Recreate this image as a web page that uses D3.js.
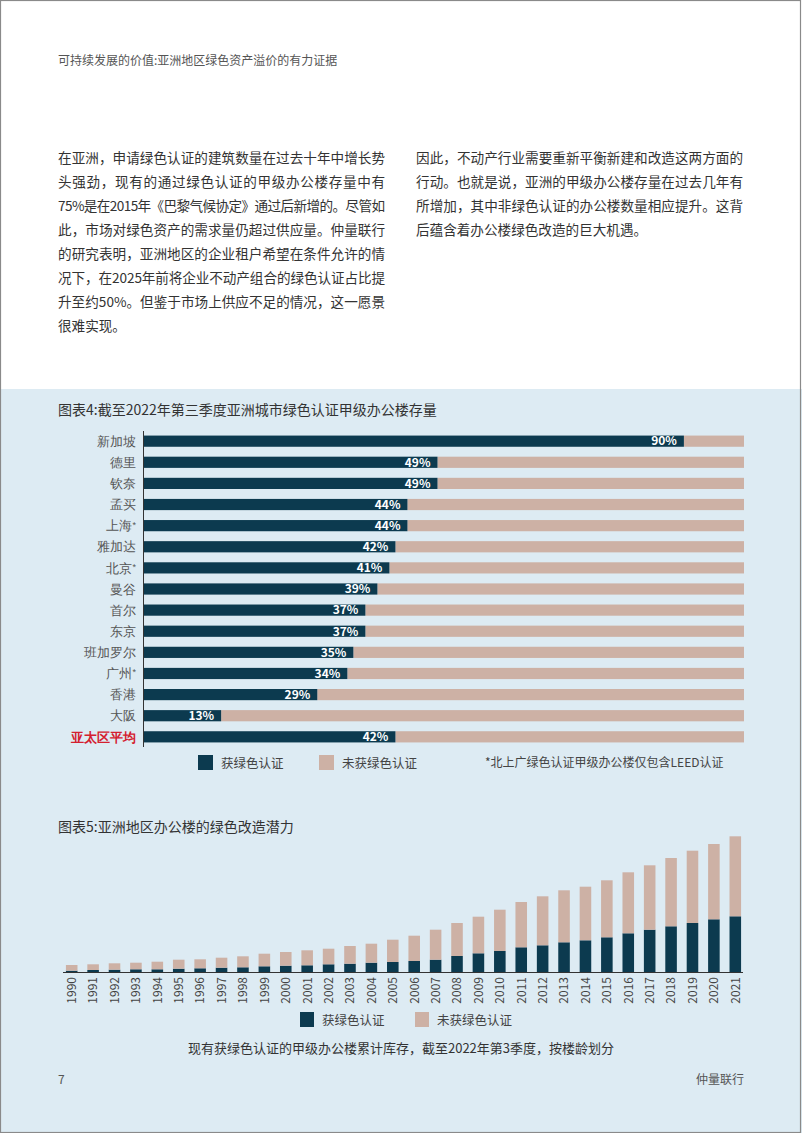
<!DOCTYPE html>
<html><head><meta charset="utf-8">
<script src="https://cdn.jsdelivr.net/npm/d3@7"></script>
<style>
html,body{margin:0;padding:0;background:#fff;}
svg{display:block;font-family:"Noto Sans CJK SC","Noto Sans",sans-serif;}
</style></head>
<body>
<svg id="page" width="802" height="1133"></svg>
<script>
// ---------- DATA ----------
const headerText = "可持续发展的价值:亚洲地区绿色资产溢价的有力证据";
const leftParagraph = [
  "在亚洲，申请绿色认证的建筑数量在过去十年中增长势",
  "头强劲，现有的通过绿色认证的甲级办公楼存量中有",
  "75%是在2015年《巴黎气候协定》通过后新增的。尽管如",
  "此，市场对绿色资产的需求量仍超过供应量。仲量联行",
  "的研究表明，亚洲地区的企业租户希望在条件允许的情",
  "况下，在2025年前将企业不动产组合的绿色认证占比提",
  "升至约50%。但鉴于市场上供应不足的情况，这一愿景",
  "很难实现。"
];
const rightParagraph = [
  "因此，不动产行业需要重新平衡新建和改造这两方面的",
  "行动。也就是说，亚洲的甲级办公楼存量在过去几年有",
  "所增加，其中非绿色认证的办公楼数量相应提升。这背",
  "后蕴含着办公楼绿色改造的巨大机遇。"
];
const chart4Title = "图表4:截至2022年第三季度亚洲城市绿色认证甲级办公楼存量";
const cities = ["新加坡","德里","钦奈","孟买","上海*","雅加达","北京*","曼谷","首尔","东京","班加罗尔","广州*","香港","大阪","亚太区平均"];
const certifiedShare = [90,49,49,44,44,42,41,39,37,37,35,34,29,13,42];
const seriesLabels = ["获绿色认证","未获绿色认证"];
const chart4Note = "*北上广绿色认证甲级办公楼仅包含LEED认证";

const chart5Title = "图表5:亚洲地区办公楼的绿色改造潜力";
const years = ["1990","1991","1992","1993","1994","1995","1996","1997","1998","1999","2000","2001","2002","2003","2004","2005","2006","2007","2008","2009","2010","2011","2012","2013","2014","2015","2016","2017","2018","2019","2020","2021"];
const certifiedStock = [1.3,2,2.3,2.7,2.7,3.3,3.7,4.3,4.7,5.7,6.3,6.7,7.7,8.3,9.3,10,11,12.3,16,18.7,21,24.7,26.7,29.7,31.7,34.7,38.7,42.3,45.7,49,52.7,55.7];
const uncertifiedStock = [5.7,5.7,6.4,6.6,7.6,9,9,10,11,12.6,13.7,15,15.6,17.7,19,22.3,25.3,30,33,36.6,41.3,45.3,49,52,53.6,57,61,64.4,68.3,72.3,75.3,80];
const chart5Caption = "现有获绿色认证的甲级办公楼累计库存，截至2022年第3季度，按楼龄划分";
const pageNumber = "7";
const brand = "仲量联行";

// ---------- STYLE ----------
const C_DARK = "#0c3a4f", C_PEACH = "#cdb1a5", C_BG = "#ddebf3", C_RED = "#d4202f";
const svg = d3.select("#page");

// page backgrounds
svg.append("rect").attr("x",0).attr("y",0).attr("width",802).attr("height",1133).attr("fill","#fff");
svg.append("rect").attr("x",0).attr("y",389).attr("width",802).attr("height",744).attr("fill",C_BG);
svg.append("rect").attr("x",0.5).attr("y",0.5).attr("width",800).attr("height",1132)
   .attr("fill","none").attr("stroke","#8a8a8a").attr("stroke-width",1.2);

// header
svg.append("text").attr("x",58).attr("y",65).attr("font-size",12).attr("fill","#555").text(headerText);

// paragraphs (justified lines)
function para(lines, x0){
  svg.append("g").selectAll("text").data(lines).join("text")
    .attr("x",x0).attr("y",(d,i)=>163+i*24)
    .attr("font-size",13.6).attr("fill","#333")
    .each(function(d,i){
      if(i<lines.length-1){ d3.select(this).attr("textLength",327).attr("lengthAdjust","spacing"); }
    })
    .text(d=>d);
}
para(leftParagraph,58);
para(rightParagraph,416);

// ---------- CHART 4 ----------
svg.append("text").attr("x",58).attr("y",415).attr("font-size",14).attr("fill","#333").text(chart4Title);

const x4 = d3.scaleLinear().domain([0,100]).range([143,744]);
const y4 = d3.scaleBand().domain(cities).range([430.5,747.5]).paddingInner(0.47).paddingOuter(0.24);
const g4 = svg.append("g");
const rows = cities.map((c,i)=>({city:c, v:certifiedShare[i]}));

g4.selectAll("rect.rest").data(rows).join("rect").attr("class","rest")
  .attr("x",d=>x4(d.v)).attr("y",d=>y4(d.city)).attr("width",d=>x4(100)-x4(d.v)).attr("height",y4.bandwidth())
  .attr("fill",C_PEACH);
g4.selectAll("rect.cert").data(rows).join("rect").attr("class","cert")
  .attr("x",x4(0)).attr("y",d=>y4(d.city)).attr("width",d=>x4(d.v)-x4(0)).attr("height",y4.bandwidth())
  .attr("fill",C_DARK);
g4.selectAll("text.pct").data(rows).join("text").attr("class","pct")
  .attr("x",d=>x4(d.v)-7).attr("y",d=>y4(d.city)+y4.bandwidth()/2).attr("dy","0.36em")
  .attr("text-anchor","end").attr("font-size",12).attr("font-weight","bold").attr("fill","#fff")
  .text(d=>d.v+"%");

// y axis
const ax4 = g4.append("g").attr("transform",`translate(${x4(0)},0)`)
  .call(d3.axisLeft(y4).tickSize(0).tickPadding(7).tickFormat(""));
ax4.select(".domain").attr("stroke","#333").attr("stroke-width",1).attr("d","M0.5,431V747");
ax4.selectAll(".tick text").remove();
ax4.selectAll(".tick").append("text")
  .attr("x",-7).attr("dy","0.36em").attr("text-anchor","end")
  .attr("font-size",13)
  .attr("fill",d=>d==="亚太区平均"?C_RED:"#555")
  .attr("font-weight",d=>d==="亚太区平均"?"bold":"normal")
  .each(function(d){
    const t = d3.select(this);
    const base = d.replace("*","");
    t.append("tspan").text(base);
    if(d.includes("*")) t.append("tspan").attr("font-size",9).attr("dy","-0.3em").text("*");
  });

// legend chart 4
const leg4 = [{x:198,c:C_DARK,t:seriesLabels[0]},{x:319,c:C_PEACH,t:seriesLabels[1]}];
svg.append("g").selectAll("g").data(leg4).join("g").each(function(d){
  const g=d3.select(this);
  g.append("rect").attr("x",d.x).attr("y",755).attr("width",15).attr("height",15).attr("fill",d.c);
  g.append("text").attr("x",d.x+23).attr("y",763).attr("dy","0.36em").attr("font-size",12.5).attr("fill","#444").text(d.t);
});
svg.append("text").attr("x",485).attr("y",763).attr("dy","0.36em").attr("font-size",12).attr("fill","#444").text(chart4Note);

// ---------- CHART 5 ----------
svg.append("text").attr("x",58).attr("y",832).attr("font-size",14).attr("fill","#333").text(chart5Title);

const x5 = d3.scaleBand().domain(years).range([61,746]).paddingInner(0.46).paddingOuter(0.23);
const y5 = d3.scaleLinear().domain([0,140]).range([972,832]);
const table5 = years.map((y,i)=>({year:y, cert:certifiedStock[i], uncert:uncertifiedStock[i]}));
const stack = d3.stack().keys(["cert","uncert"])(table5);
const colors5 = {cert:C_DARK, uncert:C_PEACH};
const g5 = svg.append("g");
g5.selectAll("g.layer").data(stack).join("g").attr("class","layer").attr("fill",d=>colors5[d.key])
  .selectAll("rect").data(d=>d).join("rect")
  .attr("x",d=>x5(d.data.year)).attr("width",x5.bandwidth())
  .attr("y",d=>y5(d[1])).attr("height",d=>y5(d[0])-y5(d[1]));

const ax5 = g5.append("g").attr("transform","translate(0,972)")
  .call(d3.axisBottom(x5).tickSize(0).tickSizeOuter(0));
ax5.select(".domain").attr("stroke","#333").attr("stroke-width",1.2).attr("d","M63,0.5H743");
ax5.selectAll(".tick text")
  .attr("transform","rotate(-90)").attr("text-anchor","end")
  .attr("x",-5).attr("y",0).attr("dy","0.36em")
  .attr("font-size",12).attr("fill","#444")
  .attr("font-family","'Noto Sans CJK SC',sans-serif");

const leg5 = [{x:300,c:C_DARK,t:seriesLabels[0]},{x:415,c:C_PEACH,t:seriesLabels[1]}];
svg.append("g").selectAll("g").data(leg5).join("g").each(function(d){
  const g=d3.select(this);
  g.append("rect").attr("x",d.x).attr("y",1012).attr("width",14).attr("height",15).attr("fill",d.c);
  g.append("text").attr("x",d.x+22).attr("y",1020).attr("dy","0.36em").attr("font-size",12.5).attr("fill","#444").text(d.t);
});
svg.append("text").attr("x",401).attr("y",1048).attr("dy","0.36em").attr("text-anchor","middle")
  .attr("font-size",13).attr("fill","#333").text(chart5Caption);

// footer
svg.append("text").attr("x",58).attr("y",1080).attr("dy","0.36em").attr("font-size",12).attr("fill","#555").text(pageNumber);
svg.append("text").attr("x",744).attr("y",1080).attr("dy","0.36em").attr("text-anchor","end").attr("font-size",12).attr("fill","#555").text(brand);
</script>
</body></html>
